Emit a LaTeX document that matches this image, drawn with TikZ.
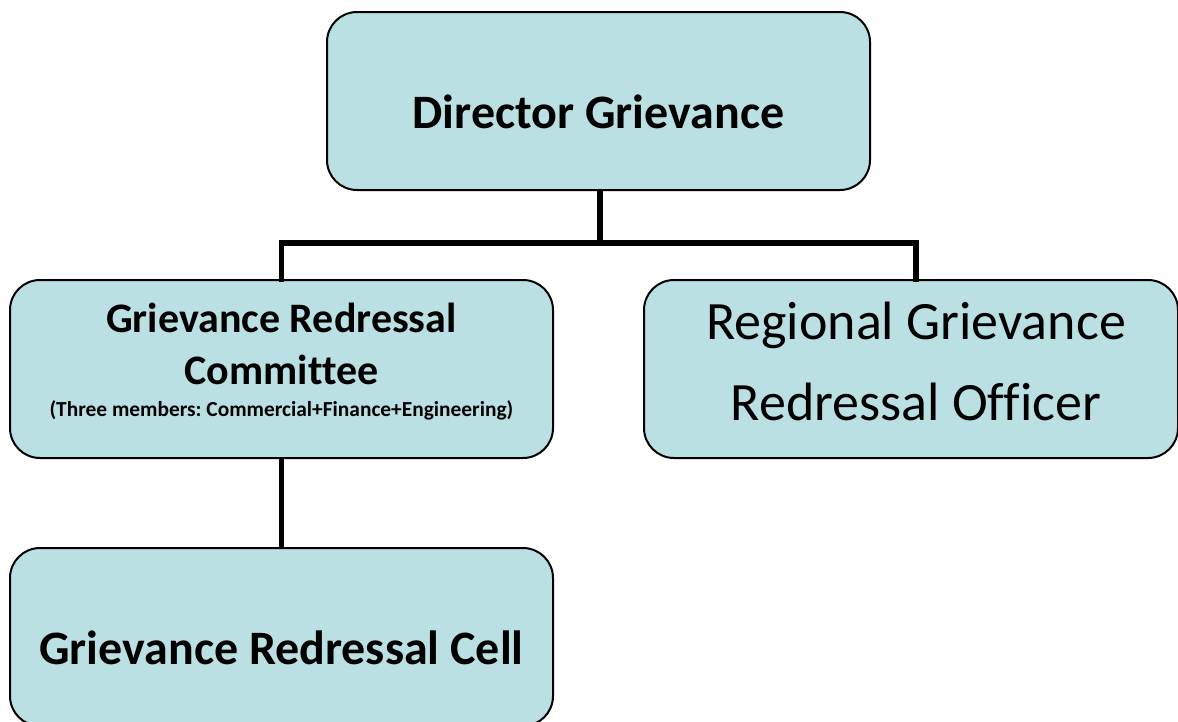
\documentclass[tikz,border=0pt]{standalone}
\usepackage{fontspec}
\setmainfont{Carlito}[Ligatures={NoCommon}]
\usetikzlibrary{positioning}
\definecolor{boxfill}{HTML}{BAE0E3}
\tikzset{
  box/.style={draw=black, line width=2pt, fill=boxfill, rounded corners=30pt, inner sep=0pt},
  conn/.style={draw=black, line width=5.5pt},
  lbl/.style={inner sep=0pt, align=center, text=black}
}
\begin{document}
\begin{tikzpicture}[x=1pt,y=-1pt]
\path[use as bounding box] (0,0) rectangle (1178,721);
% boxes
\node[box, minimum width=543pt, minimum height=178pt] (dir) at (598.5,101) {};
\node[box, minimum width=543pt, minimum height=178pt] (grc) at (281.5,369) {};
\node[box, minimum width=534pt, minimum height=178pt] (reg) at (911,369) {};
\node[box, minimum width=543pt, minimum height=178pt] (cell) at (281.5,637) {};
% texts
\node[lbl, font=\bfseries\fontsize{48}{58}\selectfont] (dirt) at (598.5,112) {Director Grievance};
\node[lbl, font=\bfseries\fontsize{42}{51}\selectfont] (grct1) at (281.5,318) {Grievance Redressal};
\node[lbl, font=\bfseries\fontsize{42}{51}\selectfont] (grct2) at (281.5,370) {Committee};
\node[lbl, font=\bfseries\fontsize{21.4}{26}\selectfont] (grct3) at (281.5,410) {(Three members:~Commercial+Finance+Engineering)};
\node[lbl, font=\fontsize{54}{66}\selectfont] (regt1) at (916,325) {Regional Grievance};
\node[lbl, font=\fontsize{54}{66}\selectfont] (regt2) at (916,402) {Redressal Officer};
\node[lbl, font=\bfseries\fontsize{48}{58}\selectfont] (cellt) at (281.5,648) {Grievance Redressal Cell};
% connectors
\coordinate (bar) at (600,243);
\coordinate (dirb) at ([xshift=1.5pt]dir.south);
\coordinate (regtop) at ([xshift=5pt]reg.north);
\draw[conn] (dirb) -- (dirb |- bar);
\draw[conn, line cap=rect] (grc.north) -- (grc.north |- bar) -- (bar -| regtop) -- (regtop);
\draw[conn] (grc.south) -- (cell.north);
\end{tikzpicture}
\end{document}
